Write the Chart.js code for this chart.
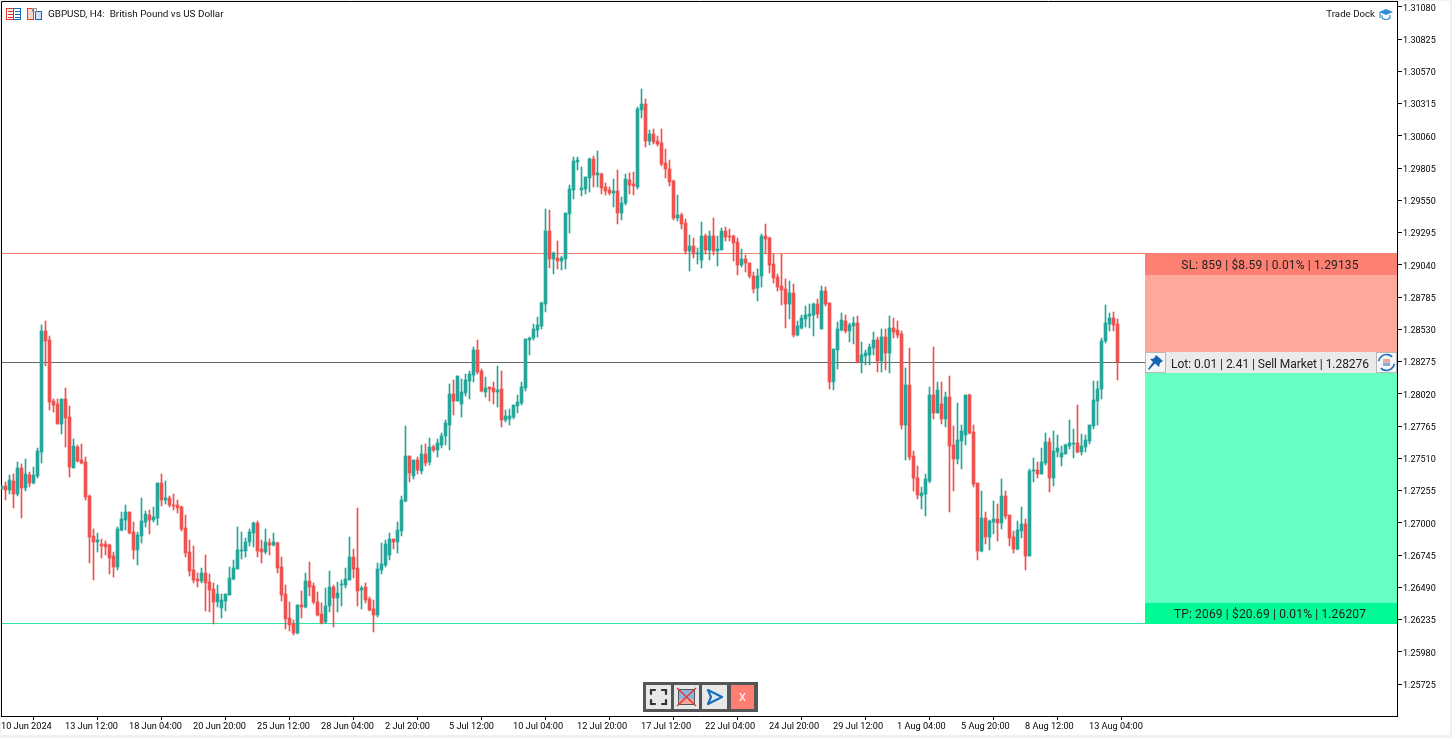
<!DOCTYPE html>
<html><head><meta charset="utf-8">
<style>html,body{margin:0;padding:0;background:#f0f0f0;overflow:hidden}canvas{display:block}</style>
<script src="https://cdn.jsdelivr.net/npm/chart.js@4/dist/chart.umd.min.js"></script>
</head><body><canvas id="c" width="1452" height="738"></canvas>
<script>
// Prices in 1e-5 units, one entry per H4 candle
const openPts = [
127267,127291,127259,127330,127227,127433,127275,127378,127314,127370,
127560,128517,128446,127963,127939,127781,127979,127837,127433,127599,
127496,127481,127212,126895,126848,126832,126832,126824,126737,126650,
126943,127022,127085,126927,126784,126895,127006,127061,127021,127037,
127314,127180,127195,127140,127140,127124,126958,126768,126626,126555,
126539,126602,126531,126476,126373,126325,126381,126428,126555,126634,
126776,126776,126847,126919,126998,126792,126768,126840,126824,126840,
126650,126436,126246,126199,126127,126350,126334,126539,126500,126373,
126278,126215,126342,126492,126405,126508,126508,126547,126729,126642,
126468,126492,126397,126318,126270,126626,126666,126745,126872,126848,
126935,127172,127528,127370,127497,127410,127544,127481,127600,127576,
127615,127687,127774,128018,127962,127939,128026,128121,128168,128366,
128200,128034,128073,128065,128034,128057,127812,127820,127836,127923,
127947,128065,128445,128461,128524,128556,128730,129307,129086,129094,
129070,129086,129442,129632,129853,129632,129639,129726,129877,129750,
129759,129656,129632,129609,129624,129450,129530,129711,129680,129656,
130265,130313,130020,130075,130020,130004,129846,129798,129704,129411,
129435,129371,129150,129189,129126,129079,129268,129158,129268,129150,
129158,129308,129268,129268,129221,129039,129086,129055,128952,128857,
128952,129268,129253,129047,128944,128873,128849,128730,128818,128485,
128541,128612,128636,128643,128730,128533,128833,128738,128113,128367,
128525,128596,128517,128556,128580,128272,128319,128327,128382,128446,
128280,128469,128343,128541,128525,128493,127773,128090,127528,127354,
127212,127227,127330,128011,127868,127939,127821,127995,127615,127504,
127647,127694,128011,127718,127314,126777,127038,126887,127006,127030,
126998,127212,127061,126887,126792,126935,126990,126737,127409,127417,
127385,127472,127639,127354,127560,127520,127544,127607,127623,127631,
127560,127599,127647,127765,127963,128058,128438,128572,128620,128572];
const highPts = [
127291,127320,127378,127386,127481,127465,127504,127401,127441,127591,
128564,128596,128477,127979,127979,127979,128066,127924,127662,127615,
127623,127520,127219,126950,126919,126871,126856,126832,126769,126966,
127085,127140,127085,127006,126927,127196,127093,127101,127124,127314,
127385,127330,127211,127227,127180,127132,127061,126863,126816,126602,
126642,126745,126594,126523,126507,126436,126436,126650,126705,126966,
126927,126879,126950,127006,127014,126863,126950,126871,126919,126847,
126729,126507,126373,126230,126349,126460,126603,126690,126524,126452,
126365,126484,126619,126508,126532,126547,126642,126888,126793,127117,
126500,126524,126413,126389,126682,126840,126864,126919,126872,127006,
127212,127766,127528,127497,127520,127615,127623,127671,127615,127663,
127710,127813,128098,128128,128160,128136,128176,128200,128390,128445,
128215,128152,128073,128113,128239,128200,127891,127899,127931,128010,
128113,128453,128469,128571,128627,128746,129481,129473,129141,129228,
129109,129450,129671,129893,129893,129814,129734,129885,129901,129940,
129767,129688,129656,129719,129791,129577,129759,129767,129775,130289,
130431,130352,130107,130115,130060,130115,129957,129870,129711,129593,
129450,129403,129276,129253,129173,129379,129284,129308,129411,129268,
129332,129340,129324,129276,129253,129166,129118,129055,128984,129007,
129284,129363,129261,129126,128968,129126,128928,128912,128889,128596,
128643,128715,128730,128738,128770,128873,128865,128738,128374,128588,
128659,128643,128580,128628,128636,128430,128367,128414,128509,128469,
128533,128533,128636,128620,128596,128517,128224,128382,127568,127449,
127283,127386,128074,128390,128114,128114,128034,128161,127765,127947,
127773,128011,128019,127773,127314,127251,127085,127022,127172,127148,
127346,127251,127061,126935,127014,127124,127029,127425,127512,127480,
127591,127710,127670,127726,127694,127607,127623,127813,127741,127931,
127702,127694,127773,128121,128121,128461,128722,128659,128667,128612];
const lowPts = [
127267,127180,127227,127117,127212,127037,127251,127283,127306,127354,
127473,128240,127892,127876,127781,127702,127599,127362,127433,127481,
127465,127180,126682,126547,126769,126721,126745,126594,126571,126626,
126935,126943,126911,126713,126666,126840,126966,126911,127006,126982,
127132,127148,127124,127101,127077,126934,126729,126578,126523,126491,
126523,126302,126294,126199,126333,126246,126302,126428,126547,126634,
126713,126729,126816,126808,126729,126681,126752,126745,126816,126602,
126381,126159,126143,126112,126120,126247,126326,126421,126357,126263,
126199,126207,126294,126176,126294,126342,126484,126547,126563,126342,
126318,126365,126302,126136,126255,126595,126650,126706,126793,126761,
126895,127164,127323,127346,127386,127386,127449,127457,127560,127520,
127592,127615,127576,127852,127962,127836,128002,127978,128113,128176,
128034,127994,127962,127939,127915,127757,127796,127772,127820,127867,
127931,128041,128326,128445,128469,128532,128666,129014,128967,129007,
128999,129007,129291,129560,129790,129584,129600,129616,129655,129655,
129601,129593,129593,129498,129363,129395,129514,129601,129593,129640,
130202,129973,129988,129996,129980,129822,129727,129664,129395,129387,
129324,129126,128992,129094,129047,129015,129126,129079,129118,129031,
129158,129229,129229,129071,128960,129023,128984,128936,128818,128754,
128865,129126,128976,128897,128833,128723,128541,128612,128469,128477,
128533,128549,128541,128477,128620,128533,128715,128058,128050,128216,
128517,128501,128430,128414,128264,128185,128248,128248,128327,128193,
128193,128208,128185,128462,128462,127742,127496,127496,127251,127188,
127109,127053,127314,127821,127868,127781,127758,127085,127251,127465,
127425,127615,127702,127283,126705,126769,126832,126784,126911,126856,
126951,127030,126816,126761,126784,126879,126626,126737,127322,127354,
127385,127457,127243,127291,127520,127449,127544,127583,127512,127552,
127536,127560,127623,127741,127773,127979,128422,128517,128517,128129];
const closePts = [
127291,127259,127338,127227,127433,127275,127386,127314,127378,127568,
128517,128438,127955,127931,127781,127979,127829,127441,127607,127488,
127473,127204,126887,126848,126863,126816,126808,126721,126650,126950,
127030,127085,126919,126784,126903,127014,127069,127022,127045,127314,
127180,127195,127140,127132,127116,126950,126760,126618,126547,126539,
126602,126523,126468,126373,126436,126389,126436,126563,126642,126784,
126784,126847,126927,126998,126776,126768,126847,126824,126847,126642,
126428,126238,126191,126127,126349,126334,126539,126492,126373,126270,
126207,126342,126492,126405,126445,126516,126555,126729,126634,126460,
126484,126389,126310,126270,126634,126674,126832,126872,126848,126943,
127180,127528,127394,127497,127418,127544,127473,127600,127576,127631,
127687,127789,128019,127962,128160,128034,128128,128176,128366,128192,
128041,128065,128057,128034,128049,127812,127844,127844,127931,127954,
128073,128453,128461,128532,128564,128738,129307,129086,129133,129070,
129094,129450,129639,129861,129869,129647,129734,129877,129750,129766,
129648,129624,129609,129624,129450,129530,129719,129672,129664,130273,
130313,130020,130075,130012,129996,129838,129798,129696,129411,129435,
129363,129150,129189,129126,129134,129268,129158,129268,129150,129166,
129308,129261,129261,129213,129039,129086,129055,128952,128849,128952,
129268,129245,129039,128936,128865,128841,128730,128818,128485,128556,
128620,128643,128651,128730,128651,128833,128730,128113,128374,128533,
128604,128517,128564,128580,128272,128327,128343,128390,128446,128280,
128469,128343,128541,128509,128485,127773,128090,127520,127354,127220,
127235,127346,128011,127868,128050,127821,127995,127607,127504,127655,
127726,128011,127710,127307,126777,127038,126887,127014,127030,126998,
127212,127053,126879,126792,126943,126990,126737,127409,127417,127385,
127480,127639,127354,127567,127591,127552,127615,127631,127631,127560,
127607,127654,127773,127971,128058,128438,128580,128620,128564,128272];

const priceTicks = [1.31080,1.30825,1.30570,1.30315,1.30060,1.29805,1.29550,1.29295,1.29040,1.28785,1.28530,1.28275,1.28020,1.27765,1.27510,1.27255,1.27000,1.26745,1.26490,1.26235,1.25980,1.25725];
const timeTickIndex = [0,16,32,48,64,80,96,112,128,144,160,176,192,208,224,240,256,272];
const timeTickLabels = ["10 Jun 2024","13 Jun 12:00","18 Jun 04:00","20 Jun 20:00","25 Jun 12:00","28 Jun 04:00","2 Jul 20:00","5 Jul 12:00","10 Jul 04:00","12 Jul 20:00","17 Jul 12:00","22 Jul 04:00","24 Jul 20:00","29 Jul 12:00","1 Aug 04:00","5 Aug 20:00","8 Aug 12:00","13 Aug 04:00"];
const slPrice = 1.29135, tpPrice = 1.26207, entryLine = 1.28268;
const titleText = "GBPUSD, H4:  British Pound vs US Dollar";
const dockText = "Trade Dock";
const slText = "SL: 859 | $8.59 | 0.01% | 1.29135";
const lotText = "Lot: 0.01 | 2.41 | Sell Market | 1.28276";
const tpText = "TP: 2069 | $20.69 | 0.01% | 1.26207";

const UP = "#26a69a", DOWN = "#ef5350";
const FONT = "Roboto";
const px = 1e-5;
const colours = closePts.map((c,i)=> c>=openPts[i] ? UP : DOWN);
const wickData = highPts.map((h,i)=>({x:i,y:[lowPts[i]*px,h*px]}));
const bodyData = closePts.map((c,i)=>({x:i,y:[Math.min(c,openPts[i])*px,Math.max(c,openPts[i])*px]}));

const snapBars = {
  id:'snapBars',
  afterDatasetsUpdate(chart){
    chart.data.datasets.forEach((d,i)=>{
      chart.getDatasetMeta(i).data.forEach(el=>{
        const t=Math.round(Math.min(el.y,el.base)); let b=Math.round(Math.max(el.y,el.base));
        if(b<=t) b=t+1;
        el.y=t; el.base=b; el.height=b-t;
      });
    });
  }
};

function txt(ctx,s,x,y,size,color,align,spacing){
  ctx.font=size+"px "+FONT; ctx.fillStyle=color; ctx.textAlign=align||'left'; ctx.textBaseline='middle';
  ctx.letterSpacing=(spacing||0)+'px';
  ctx.fillText(s,x,y);
  ctx.letterSpacing='0px';
}
function rect(ctx,x,y,w,h,c){ctx.fillStyle=c;ctx.fillRect(x,y,w,h);}

const backdrop = {
  id:'backdrop',
  beforeDraw(chart){
    const ctx=chart.ctx;
    rect(ctx,0,0,1452,738,'#f0f0f0');
    rect(ctx,1,1,1449,734,'#ffffff');
    ctx.strokeStyle='#000'; ctx.lineWidth=1;
    ctx.beginPath(); ctx.moveTo(1.5,716.5); ctx.lineTo(1.5,1.5); ctx.lineTo(1397.5,1.5); ctx.stroke();
    chart.scales.y.getLabelItems().forEach(it=>{it.options.translation[1]+=1.5;});
    chart.scales.x.getLabelItems().forEach(it=>{it.options.translation[1]+=1.5;it.options.translation[0]-=0.5;});
  },
  beforeDatasetsDraw(chart){
    const ctx=chart.ctx, y=chart.scales.y;
    const hl=(p,c)=>{const r=Math.round(y.getPixelForValue(p)); rect(ctx,2,r,1144,1,c);};
    hl(slPrice,'#f98070'); hl(tpPrice,'#2ee59d'); hl(entryLine,'#666666');
  },
  afterDraw(chart){
    const ctx=chart.ctx, y=chart.scales.y;
    const top=Math.round(y.getPixelForValue(slPrice));
    const bot=Math.round(y.getPixelForValue(tpPrice))+1;
    // trade panel
    rect(ctx,1145,top,252,275-top,'#fe8072');
    rect(ctx,1145,275,252,77,'#fea99b');
    rect(ctx,1145,352,252,21,'#eaeaea');
    rect(ctx,1145,373,252,230,'#66ffc4');
    rect(ctx,1145,603,252,bot-603,'#00fa94');
    txt(ctx,slText,1270,266,12,'#222',"center",0.15);
    txt(ctx,lotText,1270,364.5,12,'#222',"center",-0.05);
    txt(ctx,tpText,1270,614.5,12,'#222',"center",0.15);
    // pin button
    rect(ctx,1145,352,21,21,'#f6f6f6');
    ctx.strokeStyle='#b8b8b8';ctx.lineWidth=1;ctx.strokeRect(1145.5,352.5,20,20);
    ctx.fillStyle='#1565b5';ctx.beginPath();
    ctx.moveTo(1156,355);ctx.lineTo(1163,361);ctx.lineTo(1160,363);ctx.lineTo(1159,367);ctx.lineTo(1155,363.5);ctx.lineTo(1149,370);ctx.lineTo(1148,369);ctx.lineTo(1153,362);ctx.lineTo(1150,359);ctx.lineTo(1154,358.5);ctx.closePath();ctx.fill();
    // refresh button
    rect(ctx,1376,352,21,21,'#f6f6f6');
    ctx.strokeRect(1376.5,352.5,20,20);
    rect(ctx,1383,359,7,3.5,'#f4a79b');rect(ctx,1383,362.5,7,3.5,'#8fa9dc');
    ctx.strokeStyle='#1a6fc0';ctx.lineWidth=1.6;
    ctx.beginPath();ctx.arc(1386.5,362.5,8,Math.PI*1.05,Math.PI*1.75);ctx.stroke();
    ctx.beginPath();ctx.arc(1386.5,362.5,8,Math.PI*0.05,Math.PI*0.75);ctx.stroke();
    // header
    ctx.lineWidth=1;
    ctx.strokeStyle='#e03a30';ctx.strokeRect(6.5,8.5,7,11);ctx.strokeStyle='#1569b8';ctx.strokeRect(13.5,8.5,7,11);
    for(const r of [11.5,14.5,17.5]){ctx.strokeStyle='#e03a30';ctx.beginPath();ctx.moveTo(8,r);ctx.lineTo(13,r);ctx.stroke();ctx.strokeStyle='#1569b8';ctx.beginPath();ctx.moveTo(15,r);ctx.lineTo(20,r);ctx.stroke();}
    rect(ctx,28,8,6,12,'#fbd4cc');ctx.strokeStyle='#e03a30';ctx.strokeRect(27.5,8.5,6,11);
    rect(ctx,36,11,6,9,'#cfe3f6');ctx.strokeStyle='#1569b8';ctx.strokeRect(35.5,11.5,6,8);
    ctx.strokeStyle='#999';ctx.strokeRect(32.5,8.5,4,3);
    txt(ctx,titleText,48,15,9.9,'#111');
    txt(ctx,dockText,1375,15,9.7,'#111','right');
    // cap icon
    ctx.fillStyle='#2f8fd0';ctx.beginPath();ctx.moveTo(1379,12);ctx.lineTo(1386,9);ctx.lineTo(1393,12);ctx.lineTo(1386,15);ctx.closePath();ctx.fill();
    ctx.strokeStyle='#2f8fd0';ctx.lineWidth=1.2;ctx.beginPath();ctx.moveTo(1382,15);ctx.lineTo(1382,18);ctx.quadraticCurveTo(1386,21,1390,18);ctx.lineTo(1390,15);ctx.stroke();
    ctx.beginPath();ctx.moveTo(1380,12);ctx.lineTo(1380,18);ctx.stroke();
    // toolbar
    rect(ctx,643,682,115,30,'#555555');
    rect(ctx,646,685,25,24,'#e8e8e8');rect(ctx,674,685,25,24,'#e8e8e8');rect(ctx,702,685,25,24,'#e8e8e8');rect(ctx,731,685,23,24,'#fe7f72');
    ctx.strokeStyle='#333';ctx.lineWidth=2.2;ctx.lineCap='round';
    ctx.beginPath();
    ctx.moveTo(651,694);ctx.lineTo(651,690);ctx.lineTo(655,690);
    ctx.moveTo(662,690);ctx.lineTo(666,690);ctx.lineTo(666,694);
    ctx.moveTo(666,700);ctx.lineTo(666,704);ctx.lineTo(662,704);
    ctx.moveTo(655,704);ctx.lineTo(651,704);ctx.lineTo(651,700);ctx.stroke();
    ctx.lineCap='butt';
    rect(ctx,679,690,15,9,'#8fb4e0');rect(ctx,679,699,15,5,'#f0a89c');
    ctx.strokeStyle='#555';ctx.lineWidth=1;ctx.strokeRect(678.5,689.5,16,15);
    ctx.strokeStyle='#e8352a';ctx.lineWidth=1.4;ctx.beginPath();ctx.moveTo(677,688);ctx.lineTo(696,706);ctx.moveTo(696,688);ctx.lineTo(677,706);ctx.stroke();
    ctx.strokeStyle='#1570c0';ctx.lineWidth=2.2;ctx.lineJoin='round';
    ctx.beginPath();ctx.moveTo(708,690);ctx.lineTo(722,697);ctx.lineTo(708,704);ctx.lineTo(711,697);ctx.closePath();ctx.stroke();
    ctx.lineJoin='miter';
    txt(ctx,"X",742.5,698,11,'#ffffff','center');
  }
};

new Chart(document.getElementById('c'),{
  type:'bar',
  data:{datasets:[
    {data:bodyData,backgroundColor:colours,barThickness:3,grouped:false,minBarLength:1},
    {data:wickData,backgroundColor:colours,barThickness:1,grouped:false}
  ]},
  options:{
    responsive:false,animation:false,
    layout:{padding:{left:1,top:1,right:0,bottom:0}},
    plugins:{legend:{display:false},tooltip:{enabled:false}},
    scales:{
      x:{type:'linear',min:-0.125,max:348.875,offset:false,
        grid:{drawOnChartArea:false,drawTicks:true,tickLength:4,color:'#000',tickColor:'#000'},
        border:{color:'#000',width:1},
        afterFit(s){s.height=22;s.paddingLeft=0;s.paddingRight=0;},
        afterBuildTicks(s){s.ticks=timeTickIndex.map(v=>({value:v}));},
        ticks:{autoSkip:false,maxRotation:0,minRotation:0,align:'start',padding:0,color:'#000',font:{family:FONT,size:9.2},
          callback:(v,i)=>timeTickLabels[i]}
      },
      y:{type:'linear',position:'right',min:1.25472,max:1.31127,
        grid:{drawOnChartArea:false,drawTicks:true,tickLength:5,color:'#000',tickColor:'#000'},
        border:{color:'#000',width:1},
        afterFit(s){s.width=55;s.paddingTop=0;s.paddingBottom=0;},
        afterBuildTicks(s){s.ticks=priceTicks.map(v=>({value:v}));},
        ticks:{autoSkip:false,padding:1,color:'#000',font:{family:FONT,size:9},callback:v=>v.toFixed(5)}
      }
    }
  },
  plugins:[snapBars,backdrop]
});
</script></body></html>
